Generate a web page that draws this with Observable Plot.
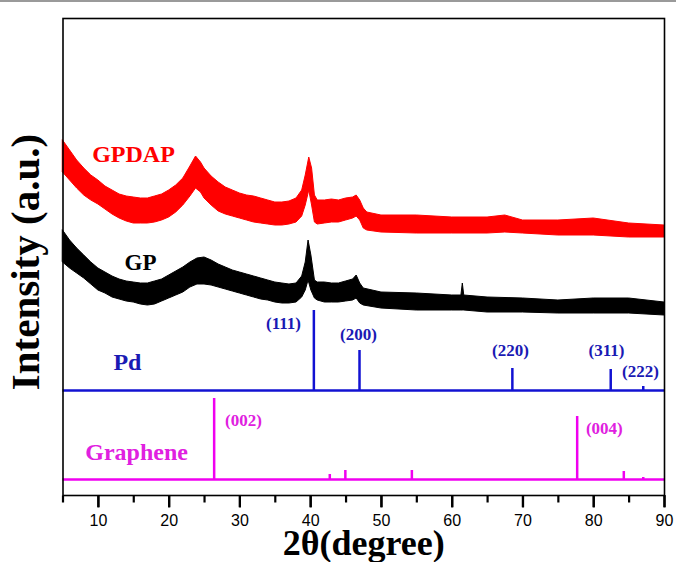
<!DOCTYPE html>
<html>
<head>
<meta charset="utf-8">
<script src="https://cdn.jsdelivr.net/npm/d3@7"></script>
<script src="https://cdn.jsdelivr.net/npm/@observablehq/plot@0.6"></script>
<style>
  html, body { margin: 0; padding: 0; background: #fff; color: #000; }
  #wrap { position: relative; width: 676px; height: 562px; overflow: hidden; }
  #topline { position: absolute; left: 0; top: 0; width: 676px; height: 2px; background: #9a9a9a; }
</style>
</head>
<body>
<div id="wrap"><div id="topline"></div><div id="chart"></div></div>
<script>
// ---- data (2θ in degrees, intensity in arbitrary units) ----
// GPDAP pattern: upper / lower envelope of the noisy trace
const gpdapX  = [5,6,7,8,9,10,11,12,13,14,15,16,17,18,19,20,21,22,23,23.8,24.5,25,26,27,28,29,30,31,32,33,34,35,36,37,38,38.8,39.3,39.8,40.2,40.6,41,42,43,44,45,46,46.5,47,47.5,48,50,55,60,65,67.5,70,75,80,85,90];
const gpdapHi = [355,345,335,327,320,315,309,305,301,299,298,297,297,299,301,305,310,317,329,339,333,327,319,313,308,305,302,300,299,297,295,293,293,294,297,305,320,338,327,300,295,295,296,295,297,298,300,295,287,283,280,280,278,278,280,275,275,277,272,270];
const gpdapLo = [323,315,307,300,295,291,286,281,277,274,272,272,272,273,275,278,283,290,299,307,303,297,290,284,281,279,277,275,273,272,271,270,270,271,273,279,290,305,290,273,271,272,273,273,275,277,279,275,267,265,263,262,262,262,263,262,260,260,258,258];
// GP pattern
const gpX  = [5,6,7,8,9,10,11,12,13,14,15,16,17,18,19,20,21,22,23,24,25,26,27,28,29,30,31,32,33,34,35,36,37,38,38.8,39.3,39.7,40.1,40.6,41,42,43,44,45,46,46.5,47,47.5,50,55,60,61.3,61.5,61.7,65,70,75,80,85,90];
const gpHi = [265,255,247,240,233,227,223,219,216,214,213,212,212,214,216,220,224,228,233,237,238,235,231,228,225,223,221,219,217,215,213,212,211,212,219,233,255,240,215,213,213,212,212,214,216,220,212,207,203,202,200,200,212,200,198,197,195,197,197,193];
const gpLo = [233,227,222,217,211,205,202,198,196,194,193,191,190,191,194,197,200,203,208,211,211,210,208,206,204,202,200,198,196,195,193,192,192,193,198,205,215,205,197,195,193,193,193,194,195,197,192,190,187,185,185,185,185,185,183,183,182,182,182,180];
// Pd reference pattern
const pdPos  = [40.45, 46.9, 68.5, 82.4, 87.0];
const pdInt  = [80, 40, 22, 21, 4];
const pdHkl  = ["(111)", "(200)", "(220)", "(311)", "(222)"];
// Graphene reference pattern
const grPos  = [26.36, 42.7, 44.9, 54.3, 77.66, 84.25, 87.0];
const grInt  = [81, 5, 9, 9, 63, 8, 2];
const grHkl  = ["(002)", "(004)"];
const xTicks = [10, 20, 30, 40, 50, 60, 70, 80, 90];
const xMinorTicks = [5, 15, 25, 35, 45, 55, 65, 75, 85];

// ---- build tables ----
const PD_BASE = 105, GR_BASE = 16;
const MAJOR_TICK = 12, MINOR_TICK = 7; // tick lengths in y units (1 unit = 1 px)
const gpdap = gpdapX.map((t, i) => ({t, hi: gpdapHi[i], lo: gpdapLo[i]}));
const gp = gpX.map((t, i) => ({t, hi: gpHi[i], lo: gpLo[i]}));
const pd = pdPos.map((t, i) => ({t, i: pdInt[i] + PD_BASE}));
const gr = grPos.map((t, i) => ({t, i: grInt[i] + GR_BASE}));

const BLUE = "#1212d2", BLUE_T = "#1a1ab4", MAG = "#f000f0", MAG_T = "#e020e0";
const serif = "'Liberation Serif', 'Times New Roman', serif";

const pdLabels = [
  {x: 36.16, y: 172, s: pdHkl[0]},
  {x: 46.76, y: 161, s: pdHkl[1]},
  {x: 68.24, y: 145, s: pdHkl[2]},
  {x: 81.8,  y: 145, s: pdHkl[3]},
  {x: 86.6,  y: 124, s: pdHkl[4]}
];
const grLabels = [
  {x: 30.5, y: 75, s: grHkl[0]},
  {x: 81.5, y: 67, s: grHkl[1]}
];

const chart = Plot.plot({
  width: 676,
  height: 562,
  marginLeft: 62.5,
  marginRight: 12,
  marginTop: 18,
  marginBottom: 67,
  style: {background: "#fff", color: "#000", fontFamily: "'Liberation Sans', Arial, sans-serif"},
  x: {domain: [5, 90]},
  y: {domain: [0, 477], axis: null},
  marks: [
    // reference baselines
    Plot.ruleY([PD_BASE], {stroke: BLUE, strokeWidth: 2.5}),
    Plot.ruleY([GR_BASE], {stroke: MAG, strokeWidth: 2.5}),
    Plot.ruleX(pd, {x: "t", y1: PD_BASE, y2: "i", stroke: BLUE, strokeWidth: 2.5}),
    Plot.ruleX(gr, {x: "t", y1: GR_BASE, y2: "i", stroke: MAG, strokeWidth: 2.5}),
    // measured patterns
    Plot.areaY(gpdap, {x: "t", y1: "lo", y2: "hi", fill: "#ff0000", stroke: "#ff0000", strokeWidth: 1}),
    Plot.areaY(gp, {x: "t", y1: "lo", y2: "hi", fill: "#000", stroke: "#000", strokeWidth: 1}),
    // series labels
    Plot.text(["GPDAP"], {x: 14.96, y: 341.5, text: d => d, fill: "#ff0000", fontSize: 24, fontWeight: "bold", fontFamily: serif}),
    Plot.text(["GP"], {x: 15.96, y: 232.5, text: d => d, fill: "#000", fontSize: 23, fontWeight: "bold", fontFamily: serif}),
    Plot.text(["Pd"], {x: 14.1, y: 133, text: d => d, fill: BLUE_T, fontSize: 24, fontWeight: "bold", fontFamily: serif}),
    Plot.text(["Graphene"], {x: 15.4, y: 43, text: d => d, fill: MAG_T, fontSize: 24, fontWeight: "bold", fontFamily: serif}),
    // hkl labels
    Plot.text(pdLabels, {x: "x", y: "y", text: "s", fill: BLUE_T, fontSize: 17, fontWeight: "bold", fontFamily: serif}),
    Plot.text(grLabels, {x: "x", y: "y", text: "s", fill: MAG_T, fontSize: 17, fontWeight: "bold", fontFamily: serif}),
    // x axis: tick marks drawn below the frame, then labels
    Plot.link(xMinorTicks, {x1: d => d, x2: d => d, y1: 0, y2: -MINOR_TICK, stroke: "#000", strokeWidth: 2.2}),
    Plot.link(xTicks, {x1: d => d, x2: d => d, y1: 0, y2: -MAJOR_TICK, stroke: "#000", strokeWidth: 2.2}),
    Plot.axisX({ticks: xTicks, tickSize: MAJOR_TICK, tickPadding: 7, fontSize: 16, strokeWidth: 2.2, label: null}),
    Plot.frame({stroke: "#000", strokeWidth: 1.6}),
    // axis titles
    Plot.text(["2θ(degree)"], {frameAnchor: "bottom", lineAnchor: "middle", textAnchor: "middle", dy: 47.5, text: d => d, fontSize: 36, fontWeight: "bold", fontFamily: serif, fill: "#000"}),
    Plot.text(["Intensity (a.u.)"], {frameAnchor: "left", lineAnchor: "middle", textAnchor: "middle", dx: -37.5, dy: 5, rotate: -90, text: d => d, fontSize: 41, fontWeight: "bold", fontFamily: serif, fill: "#000"})
  ]
});
document.getElementById("chart").appendChild(chart);
</script>
</body>
</html>
